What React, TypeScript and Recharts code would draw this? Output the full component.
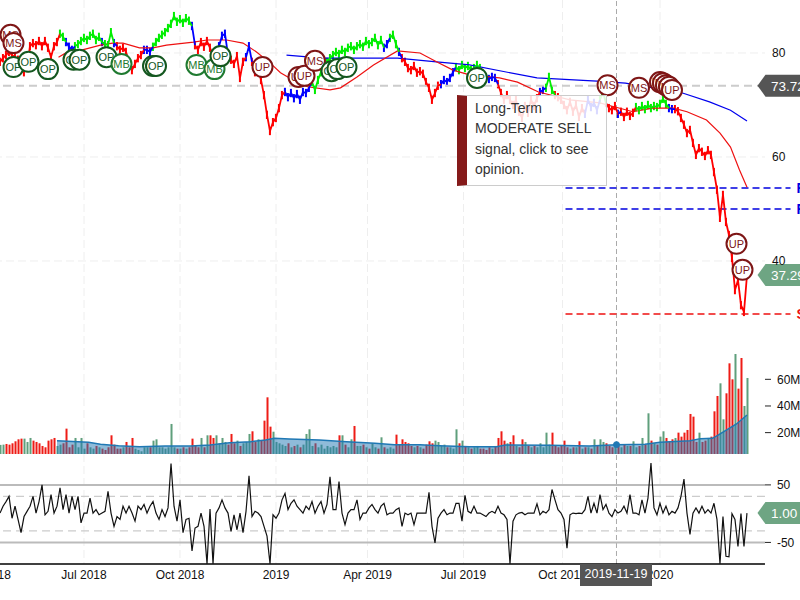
import React from "react";
import {
  Area,
  Bar,
  CartesianGrid,
  ComposedChart,
  Line,
  ReferenceDot,
  ReferenceLine,
  XAxis,
  YAxis,
} from "recharts";

const FONT = '"Liberation Sans", Arial, sans-serif';

// one row every two sessions
const SESSION_STEP = 2;
// half height of the little price tick drawn on each row
const TICK_HALF = 0.8;

const prices = [
  78.3, 79.0, 79.6, 80.2, 79.6, 79.2, 78.7, 77.7, 76.3, 77.1,
  81.3, 81.9, 81.5, 82.3, 81.3, 82.3, 81.0, 79.2, 81.3, 82.1,
  83.7, 83.1, 82.1, 81.2, 80.6, 81.3, 81.7, 82.3, 82.9, 82.5,
  83.3, 83.7, 82.5, 83.1, 82.1, 81.7, 81.5, 84.0, 81.9, 81.3,
  80.6, 81.0, 80.2, 78.3, 76.7, 77.9, 79.0, 79.6, 80.6, 80.6,
  80.2, 81.2, 82.1, 82.9, 83.5, 84.0, 84.8, 85.6, 87.1, 86.0,
  86.5, 85.8, 86.7, 86.2, 85.2, 81.5, 80.6, 82.1, 81.2, 82.3,
  81.0, 79.6, 80.2, 81.3, 83.3, 83.7, 79.6, 78.7, 77.9, 79.4,
  75.2, 78.3, 79.2, 81.3, 78.3, 76.3, 77.1, 74.8, 71.9, 68.1,
  65.0, 66.7, 67.5, 69.4, 71.9, 72.5, 71.5, 72.3, 71.3, 72.1,
  71.0, 72.5, 72.3, 73.3, 74.4, 72.9, 74.8, 76.3, 77.5, 78.3,
  79.0, 79.6, 80.2, 79.8, 80.6, 80.2, 81.0, 81.3, 80.6, 81.3,
  81.7, 81.2, 82.3, 81.7, 82.1, 82.9, 81.5, 82.5, 81.0, 81.7,
  82.9, 83.5, 81.7, 80.2, 79.0, 78.3, 77.1, 76.7, 77.5, 76.2,
  76.5, 76.0, 74.4, 73.3, 71.0, 72.3, 73.7, 74.0, 74.8, 74.4,
  75.2, 76.3, 77.3, 76.7, 77.7, 77.1, 77.5, 76.7, 77.1, 77.7,
  77.1, 76.0, 75.2, 75.0, 75.4, 75.2, 74.0, 72.3, 71.0, 71.9,
  71.0, 70.0, 71.0, 68.7, 67.5, 69.8, 68.5, 71.0, 69.8, 71.3,
  72.5, 72.9, 73.3, 75.4, 72.9, 71.9, 71.5, 71.0, 70.0, 69.0,
  70.6, 68.7, 70.0, 67.7, 69.4, 68.3, 71.0, 69.6, 70.4, 69.0,
  71.0, 72.5, 70.4, 69.4, 69.0, 69.8, 68.3, 68.7, 67.7, 68.7,
  67.9, 68.5, 69.6, 69.0, 69.8, 69.2, 70.0, 69.4, 69.8, 69.6,
  70.2, 71.2, 70.2, 69.4, 69.2, 69.2, 68.8, 67.5, 66.2, 64.6,
  65.2, 62.7, 60.4, 61.7, 61.0, 60.2, 61.3, 60.4, 57.1, 53.7,
  48.3, 52.7, 47.5, 45.0, 40.6, 34.4, 36.3, 31.5, 30.2, 37.3,
];

// how many rows in a row carry each trend colour
const trendRuns: [string, number][] = [
  ["red", 20], ["green", 2], ["blue", 3], ["green", 9], ["blue", 1], ["green", 3],
  ["blue", 1], ["red", 9], ["blue", 3], ["green", 13], ["blue", 1], ["red", 8],
  ["blue", 3], ["red", 6], ["blue", 2], ["red", 11], ["blue", 9], ["green", 24],
  ["blue", 2], ["green", 3], ["blue", 1], ["red", 13], ["blue", 5], ["green", 10],
  ["blue", 4], ["red", 14], ["blue", 2], ["green", 3], ["red", 7], ["red", 3],
  ["blue", 5], ["green", 2], ["red", 4], ["blue", 1], ["red", 5], ["green", 11],
  ["blue", 2], ["red", 25],
];

const trendColors: Record<string, string> = { red: "#ff0000", blue: "#0000ff", green: "#00ee00" };

const volumes = [
  10.8, 11, 11.5, 11, 12, 13.5, 15, 15.5, 15.5, 13,
  16, 14, 13, 12, 10, 9, 14, 15, 16, 10,
  11, 12, 23, 9, 11, 16, 9, 16, 8, 12,
  9, 8, 10, 9, 8, 7, 9, 18, 11, 8,
  8, 9, 13, 9, 16, 8, 7, 6, 9, 9,
  9, 14, 15, 9, 9, 8, 9, 26.5, 9, 8,
  8, 9, 8, 9, 15.5, 10, 9, 16, 9, 18,
  18, 16, 18, 12, 16, 13, 11, 19, 12, 14,
  10, 12, 13, 19, 21, 13, 15, 14, 29, 46.5,
  24.5, 20.7, 13, 12, 11, 10, 12, 9, 10, 11,
  9, 11, 19, 22.5, 10, 12, 9, 11, 8, 10,
  9, 10, 9, 18, 18, 11, 9, 15, 25, 10,
  10, 11, 9, 8, 12, 9, 8, 16.5, 9, 8,
  9, 8, 18.5, 11, 15, 13, 12, 10, 9, 10,
  9, 8, 11, 13.5, 12, 14, 13, 10, 11, 9,
  9, 8, 22.5, 12, 14, 10, 9, 8, 9, 10,
  8, 8, 7, 9, 8, 10, 16, 21, 14, 12,
  13, 18, 10, 9, 15, 13, 10, 9, 10, 9,
  12, 9, 20, 11, 20, 10, 9, 10, 14, 9,
  8, 9, 9, 13.5, 8, 9, 9, 8, 15, 10,
  15, 13, 12, 10, 9, 11, 10, 9, 11, 10,
  10, 13.5, 9, 10, 16, 11, 34.5, 14, 12, 11,
  17, 21, 16, 13, 15, 16, 20, 17, 20, 22,
  34, 32, 13, 20, 13, 14, 16, 17, 36, 47.5,
  57, 30, 49.5, 72, 60, 79, 53, 76, 40, 61,
];

// rows where the volume colour goes against the price move
const greenVolumeRows = [8, 9, 102, 240, 245, 248, 249];
const redVolumeRows = [2, 3, 5, 6, 7, 11, 12, 13, 15, 16, 18, 37, 230, 246];

const oscillator = [
  1, 13, 21, 30, -8, 13, -10, -33, -5, 4,
  13, 30, 1, 21, 50, -2, 4, 33, 1, 13,
  45, 7, 33, 1, 30, 7, 30, -16, 1, 1,
  27, 1, 7, -2, 1, 4, 39, 1, -22, -5,
  -10, 13, 1, 13, 1, -13, 13, 7, 16, 1,
  13, 21, 1, -10, 7, -5, 10, 87, 13, -13,
  24, -33, -10, -8, -65, -25, -22, 1, -22, -87,
  8, -87, 1, 10, 24, 10, 1, -31, -2, -28,
  1, -33, 4, 66, -5, 4, 1, -5, -22, -39,
  -87, -2, -8, 1, 24, 35, 7, 18, 24, 13,
  7, 1, 13, 7, 21, 1, 13, 21, 1, 16,
  64, 7, 7, 56, 1, -19, 1, 7, 7, 24,
  -10, 1, 1, 10, 16, 7, 1, 13, 18, -2,
  1, 1, 7, 10, -22, 1, -2, 1, -19, 1,
  1, 1, 1, 37, -22, -51, -8, 1, 7, -2,
  1, 1, 18, 18, -13, 32, 4, 1, 13, 1,
  1, -2, -5, 1, 4, 1, 13, 1, -2, -10,
  -87, -13, -2, 1, 2, -2, 1, 1, 1, 17,
  -2, 4, 1, 7, 42, 24, 7, 1, -10, -60,
  -2, 1, 0, 1, 0, 7, 30, 1, 18, 1,
  33, 7, 16, 1, -5, 7, 1, 4, 13, 1,
  33, 1, 1, -2, 24, 1, 27, 88, 10, -2,
  18, 1, 13, -2, 4, 1, 10, 30, 60, 1,
  -36, 1, 10, 1, 13, 1, 7, 1, 18, -10,
  -87, -5, -74, -75, 0, -10, -57, 0, -57, 1,
];

const slowMaSessions = [191, 215, 265, 291, 313, 358, 398, 417, 455, 473, 487, 498];
const slowMaPrices = [79.6, 79, 79, 78.3, 77.7, 75.2, 74.6, 74.2, 72.3, 70.6, 69, 66.9];

const fastMaSessions = [
  39, 45, 55, 67, 75, 82, 93, 102, 111, 129, 138, 151, 162, 171, 180, 187, 193, 205, 220, 227, 238,
  249, 265, 280, 291, 302, 313, 333, 345, 359, 380, 400, 405, 422, 435, 449, 458, 471, 480, 487, 493, 498,
];
const fastMaPrices = [
  79.2, 80.2, 80.6, 81.5, 81.9, 81.9, 81, 81, 81.5, 82.1, 82.5, 82.5, 81.9, 80.2, 78.1, 76.2, 75.2, 73.5, 72.9, 73.3, 75.4,
  77.7, 80.4, 80, 78.3, 76.7, 75.8, 75.2, 74.4, 72.5, 71, 70.4, 70, 68.7, 69.4, 69.4, 68.7, 67.1, 64.6, 61.9, 57.5, 54.2,
];

const volMaSessions = [
  38, 59, 67, 79, 93, 110, 127, 140, 153, 167, 177, 183, 193, 213, 231, 250, 263, 280, 293, 313, 331, 337,
  367, 393, 411, 430, 440, 460, 467, 475, 479, 485, 491, 498,
];
const volMaValues = [
  14, 12.8, 11.25, 10.25, 9.5, 10, 10, 10.75, 12.5, 13.25, 14.5, 15.75, 15.25, 14.5, 13.25, 12, 11, 11, 10.25, 9.5, 9.5, 10.75,
  10.5, 10, 11, 11.25, 12.8, 14, 15.5, 15.75, 18.25, 22.5, 26.5, 33.25,
];

const markerSessions = [7, 9, 9, 19, 32, 49, 53, 71, 81, 102, 104, 131, 143, 147, 175, 199, 203, 210, 221, 225, 231, 318, 405, 426, 440, 442, 444, 446, 448, 491, 495];
const markerPrices = [83.5, 81.9, 77.3, 78.3, 76.9, 78.7, 78.7, 79.2, 77.9, 77.5, 77.5, 77.7, 76.9, 79.4, 77.3, 75.4, 75.6, 78.5, 76.5, 76.9, 77.3, 75.2, 73.8, 73.3, 74.4, 74.2, 73.8, 73.5, 72.9, 43.3, 38.3];
const markerLabels = ["MS", "MS", "OP", "OP", "OP", "OP", "OP", "OP", "MB", "OP", "OP", "MB", "MB", "OP", "UP", "UP", "UP", "MS", "OP", "OP", "OP", "OP", "MS", "MS", "MS", "MS", "MS", "MS", "UP", "UP", "UP"];

const timeTicks = [-9, 56, 120, 184, 245, 309, 375, 440];
const timeLabels = ["Apr 2018", "Jul 2018", "Oct 2018", "2019", "Apr 2019", "Jul 2019", "Oct 2019", "2020"];

const CURSOR_SESSION = 411;
const LAST_PRICE_TAG = 73.72;
const CLOSE_TAG = 37.29;
const LAST_OSC = 1.0;

const trendByRow: string[] = trendRuns.flatMap(([c, n]) => Array(n).fill(c));

const table = prices.map((price, i) => {
  const inTrend = (c: string) => trendByRow[i] === c || trendByRow[i - 1] === c;
  const falling = i > 0 && price < prices[i - 1];
  const red = redVolumeRows.includes(i) || (falling && !greenVolumeRows.includes(i));
  return {
    s: i * SESSION_STEP,
    trend: trendByRow[i],
    red: inTrend("red") ? price : null,
    blue: inTrend("blue") ? price : null,
    green: inTrend("green") ? price : null,
    range: [price - TICK_HALF, price + TICK_HALF],
    volRed: red ? volumes[i] : null,
    volGreen: red ? null : volumes[i],
    osc: oscillator[i],
  };
});

const slowMa = slowMaSessions.map((s, i) => ({ s, v: slowMaPrices[i] }));
const fastMa = fastMaSessions.map((s, i) => ({ s, v: fastMaPrices[i] }));
const volMa = volMaSessions.map((s, i) => ({ s, v: volMaValues[i] }));
const markers = markerSessions.map((s, i) => ({ s, v: markerPrices[i], label: markerLabels[i] }));

const X_DOMAIN: [number, number] = [-20, 510];
const VOLUME_DOMAIN: [number, number] = [3.75, 82];
const CHART_W = 860;

function markerColors(label: string) {
  if (label === "OP") return { stroke: "#14571f", text: "#14571f" };
  if (label === "MB") return { stroke: "#1f7a30", text: "#1f7a30" };
  return { stroke: "#7e1616", text: "#7e1616" };
}

function MarkerDot(props: any) {
  const { cx, cy, payload, index } = props;
  const c = markerColors(payload.label);
  return (
    <g key={index}>
      <circle cx={cx} cy={cy} r={10} fill="#fff" stroke={c.stroke} strokeWidth={2} />
      <text x={cx} y={cy + 4} textAnchor="middle" fontSize={11} fontFamily={FONT} fill={c.text}>
        {payload.label}
      </text>
    </g>
  );
}

// recharts squeezes bars on a dense number axis, so keep the drawn width ourselves
function slimBar(barWidth: number, fillOf?: (row: any) => string) {
  return (props: any) => (
    <rect
      x={props.x + props.width / 2 - barWidth / 2}
      y={props.y}
      width={barWidth}
      height={Math.max(props.height, 0)}
      fill={fillOf ? fillOf(props.payload) : props.fill}
    />
  );
}

function priceTag(fill: string, label: string) {
  return (props: any) => {
    const { cx, cy } = props;
    return (
      <g>
        <path
          d={`M${cx} ${cy} L${cx + 8} ${cy - 11} L${cx + 70} ${cy - 11} L${cx + 70} ${cy + 11} L${cx + 8} ${cy + 11} Z`}
          fill={fill}
        />
        <text x={cx + 13.5} y={cy + 5} fontSize={13.5} fontFamily={FONT} fill="#fff">
          {label}
        </text>
      </g>
    );
  };
}

function sideLabel(fill: string, label: string) {
  return (props: any) => (
    <text x={props.cx} y={props.cy + 5} fontSize={14} fontWeight={700} fontFamily={FONT} fill={fill}>
      {label}
    </text>
  );
}

const tickStyle = { fill: "#111", fontSize: 12, fontFamily: FONT };

function PricePanel() {
  return (
    <ComposedChart
      width={CHART_W}
      height={350}
      data={table}
      margin={{ top: 0, right: 0, bottom: 0, left: 0 }}
      style={{ position: "absolute", left: -30, top: 0 }}
    >
      <CartesianGrid stroke="#eee" strokeDasharray="8 4" syncWithTicks />
      <XAxis dataKey="s" type="number" domain={X_DOMAIN} ticks={timeTicks} hide />
      <YAxis
        orientation="right"
        width={65}
        domain={[22.88, 90.19]}
        ticks={[80, 60, 40]}
        tick={tickStyle}
        tickLine={false}
        axisLine={false}
        tickSize={0}
        tickMargin={7}
      />
      <ReferenceLine x={CURSOR_SESSION} stroke="#aaa" strokeDasharray="5 3" />
      <ReferenceLine y={LAST_PRICE_TAG} stroke="#ccc" strokeWidth={2} strokeDasharray="8 5" />
      <ReferenceLine segment={[{ x: 377, y: 54.04 }, { x: 527, y: 54.04 }]} ifOverflow="visible" stroke="#0000e0" strokeWidth={1.5} strokeDasharray="7 4" />
      <ReferenceLine segment={[{ x: 377, y: 50 }, { x: 527, y: 50 }]} ifOverflow="visible" stroke="#0000e0" strokeWidth={1.5} strokeDasharray="7 4" />
      <ReferenceLine segment={[{ x: 377, y: 29.8 }, { x: 527, y: 29.8 }]} ifOverflow="visible" stroke="#ee1111" strokeWidth={1.5} strokeDasharray="7 4" />
      <Line data={slowMa} dataKey="v" stroke="#0000ee" strokeWidth={1.2} dot={false} activeDot={false} isAnimationActive={false} />
      <Line data={fastMa} dataKey="v" stroke="#ee1111" strokeWidth={1.2} dot={false} activeDot={false} isAnimationActive={false} />
      <Bar
        dataKey="range"
        barSize={2}
        shape={slimBar(2, (row) => trendColors[row.trend])}
        isAnimationActive={false}
      />
      <Line dataKey="red" stroke={trendColors.red} strokeWidth={1.8} dot={false} activeDot={false} isAnimationActive={false} />
      <Line dataKey="blue" stroke={trendColors.blue} strokeWidth={1.8} dot={false} activeDot={false} isAnimationActive={false} />
      <Line dataKey="green" stroke={trendColors.green} strokeWidth={1.8} dot={false} activeDot={false} isAnimationActive={false} />
      <Line data={markers} dataKey="v" stroke="none" dot={MarkerDot} activeDot={false} isAnimationActive={false} />
      <ReferenceDot x={531} y={54.04} ifOverflow="visible" shape={sideLabel("#0000e0", "R2")} />
      <ReferenceDot x={531} y={50} ifOverflow="visible" shape={sideLabel("#0000e0", "R1")} />
      <ReferenceDot x={531} y={29.8} ifOverflow="visible" shape={sideLabel("#ee1111", "S1")} />
      <ReferenceDot x={505} y={LAST_PRICE_TAG} ifOverflow="visible" shape={priceTag("#555", "73.72")} />
      <ReferenceDot x={505} y={CLOSE_TAG} ifOverflow="visible" shape={priceTag("#6ea583", "37.29")} />
    </ComposedChart>
  );
}

function VolumePanel() {
  return (
    <ComposedChart
      width={CHART_W}
      height={104.3}
      data={table}
      margin={{ top: 0, right: 0, bottom: 0, left: 0 }}
      style={{ position: "absolute", left: -30, top: 350 }}
    >
      <CartesianGrid stroke="#eee" strokeDasharray="8 4" horizontal={false} syncWithTicks />
      <XAxis dataKey="s" type="number" domain={X_DOMAIN} ticks={timeTicks} hide />
      <YAxis
        orientation="right"
        width={65}
        domain={VOLUME_DOMAIN}
        allowDataOverflow
        ticks={[20, 40, 60]}
        tickFormatter={(v) => `${v}M`}
        tick={tickStyle}
        tickLine={{ stroke: "#222" }}
        axisLine={false}
        tickSize={6}
        tickMargin={6}
      />
      <ReferenceLine x={CURSOR_SESSION} stroke="#aaa" strokeDasharray="5 3" />
      <Bar dataKey="volRed" stackId="v" fill="#ee1c16" barSize={2} shape={slimBar(2)} isAnimationActive={false} />
      <Bar dataKey="volGreen" stackId="v" fill="#5f9f7c" barSize={2} shape={slimBar(2)} isAnimationActive={false} />
    </ComposedChart>
  );
}

// the average sits over the bars and tints them, so it gets its own layer
function VolumeAverageLayer() {
  return (
    <ComposedChart
      width={CHART_W}
      height={104.3}
      data={volMa}
      margin={{ top: 0, right: 65, bottom: 0, left: 0 }}
      style={{ position: "absolute", left: -30, top: 350 }}
    >
      <XAxis dataKey="s" type="number" domain={X_DOMAIN} hide />
      <YAxis domain={VOLUME_DOMAIN} allowDataOverflow hide />
      <Area
        dataKey="v"
        stroke="#1f78b4"
        strokeWidth={1.5}
        fill="#1f78b4"
        fillOpacity={0.5}
        baseValue={VOLUME_DOMAIN[0]}
        activeDot={false}
        isAnimationActive={false}
      />
      <ReferenceDot x={CURSOR_SESSION} y={11} r={3} fill="#1f78b4" stroke="#1f78b4" />
    </ComposedChart>
  );
}

function OscillatorPanel() {
  return (
    <ComposedChart
      width={CHART_W}
      height={145.7}
      data={table}
      margin={{ top: 0, right: 0, bottom: 0, left: 0 }}
      style={{ position: "absolute", left: -30, top: 454.3 }}
    >
      <CartesianGrid stroke="#eee" strokeDasharray="8 4" horizontal={false} syncWithTicks />
      <XAxis
        dataKey="s"
        type="number"
        domain={X_DOMAIN}
        ticks={timeTicks}
        interval={0}
        height={35.7}
        tickFormatter={(v) => timeLabels[timeTicks.indexOf(v)]}
        tick={tickStyle}
        tickLine={false}
        tickSize={0}
        tickMargin={6}
        axisLine={{ stroke: "#000", strokeWidth: 1.5 }}
      />
      <YAxis
        orientation="right"
        width={65}
        domain={[-87.5, 103.7]}
        allowDataOverflow
        ticks={[50, -50]}
        tick={tickStyle}
        tickLine={{ stroke: "#222" }}
        axisLine={false}
        tickSize={6}
        tickMargin={6}
      />
      <ReferenceLine x={CURSOR_SESSION} stroke="#aaa" strokeDasharray="5 3" />
      <ReferenceLine y={50} stroke="#bbb" strokeWidth={2} />
      <ReferenceLine y={-50} stroke="#bbb" strokeWidth={2} />
      <ReferenceLine y={30} stroke="#ccc" strokeWidth={1.2} strokeDasharray="8 5" />
      <ReferenceLine y={-30} stroke="#ccc" strokeWidth={1.2} strokeDasharray="8 5" />
      <Line dataKey="osc" stroke="#111" strokeWidth={1.2} dot={false} activeDot={false} isAnimationActive={false} />
      <ReferenceDot x={505} y={LAST_OSC} ifOverflow="visible" shape={priceTag("#6ea583", "1.00")} />
    </ComposedChart>
  );
}

export default function App() {
  return (
    <div
      style={{
        position: "absolute",
        left: 0,
        top: 0,
        width: 800,
        height: 600,
        overflow: "hidden",
        background: "#fff",
        fontFamily: FONT,
      }}
    >
      <PricePanel />
      <VolumePanel />
      <VolumeAverageLayer />
      <OscillatorPanel />
      <div
        style={{
          position: "absolute",
          left: 457,
          top: 95,
          width: 150,
          height: 91,
          boxSizing: "border-box",
          border: "1px solid #ccc",
          borderLeft: "10px solid #851a1a",
          background: "rgba(255,255,255,0.85)",
          padding: "2px 0 0 8px",
          fontSize: 14,
          lineHeight: "20.3px",
          color: "#333",
        }}
      >
        Long-Term
        <br />
        MODERATE SELL
        <br />
        signal, click to see
        <br />
        opinion.
      </div>
      <div
        style={{
          position: "absolute",
          left: 580,
          top: 564,
          width: 72,
          height: 22,
          background: "#555",
          color: "#fff",
          fontSize: 12.5,
          lineHeight: "20px",
          textAlign: "center",
        }}
      >
        2019-11-19
      </div>
    </div>
  );
}
